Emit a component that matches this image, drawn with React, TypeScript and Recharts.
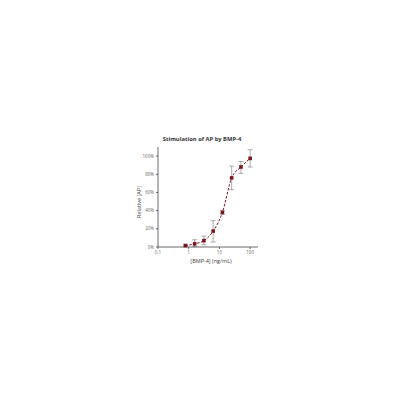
import { ComposedChart, Line, XAxis, YAxis, ErrorBar } from "recharts";

const concentrations = [0.78, 1.56, 3.125, 6.25, 12.5, 25, 50, 100];
const relativeAP = [1.5, 3.5, 7, 17.5, 38, 76, 88, 97.5];
const errLower = [1, 3, 4.5, 12, 2, 13, 7, 9.5];
const errUpper = [1.5, 4.5, 5, 11.5, 2, 13, 6, 9.5];
const xTicks = [0.1, 1, 10, 100];
const yTicks = [0, 20, 40, 60, 80, 100];

const data = concentrations.map((c, i) => ({
  conc: c,
  ap: relativeAP[i],
  err: [errLower[i], errUpper[i]]
}));

const red = "#7a1620";
const font = "'Open Sans', 'DejaVu Sans', sans-serif";

const SquareDot = (props: any) => {
  const { cx, cy } = props;
  if (cx == null || cy == null) return null;
  return <rect x={cx - 1.8} y={cy - 1.8} width={3.6} height={3.6} fill={red} />;
};

export default function App() {
  return (
    <div style={{ position: "absolute", left: 0, top: 0, width: 400, height: 400, background: "#fff", fontFamily: font }}>
      <div
        style={{
          position: "absolute",
          left: 140,
          width: 124,
          top: 135,
          textAlign: "center",
          fontSize: 5.8,
          fontWeight: 700,
          color: "#333"
        }}
      >
        Stimulation of AP by BMP-4
      </div>
      <div
        style={{
          position: "absolute",
          left: 160,
          width: 102,
          top: 257,
          textAlign: "center",
          fontSize: 5.5,
          color: "#444"
        }}
      >
        [BMP-4] (ng/mL)
      </div>
      <div
        style={{
          position: "absolute",
          left: 139,
          top: 202,
          transform: "translate(-50%, -50%) rotate(-90deg)",
          whiteSpace: "nowrap",
          fontSize: 5.5,
          color: "#444"
        }}
      >
        Relative [AP]
      </div>
      <div style={{ position: "absolute", left: 120, top: 130 }}>
        <ComposedChart
          width={145}
          height={140}
          data={data}
          margin={{ top: 17, right: 7, bottom: 9, left: 0 }}
        >
          <XAxis
            dataKey="conc"
            type="number"
            scale="log"
            domain={[0.1, 180]}
            ticks={xTicks}
            allowDataOverflow
            tickFormatter={(v) => String(v)}
            tick={{ fontSize: 4.5, fill: "#666", fontFamily: font }}
            tickSize={2}
            height={14}
            stroke="#444"
            strokeWidth={0.8}
          />
          <YAxis
            type="number"
            domain={[0, 110]}
            ticks={yTicks}
            tickFormatter={(v) => v + "%"}
            tick={{ fontSize: 4.5, fill: "#666", fontFamily: font }}
            tickSize={2}
            width={38}
            stroke="#444"
            strokeWidth={0.8}
          />
          <Line
            dataKey="ap"
            type="monotone"
            stroke={red}
            strokeWidth={1}
            strokeDasharray="2.5 1.5"
            dot={<SquareDot />}
            activeDot={false}
            isAnimationActive={false}
          >
            <ErrorBar dataKey="err" width={2.5} stroke="#777" strokeWidth={0.6} direction="y" />
          </Line>
        </ComposedChart>
      </div>
    </div>
  );
}
